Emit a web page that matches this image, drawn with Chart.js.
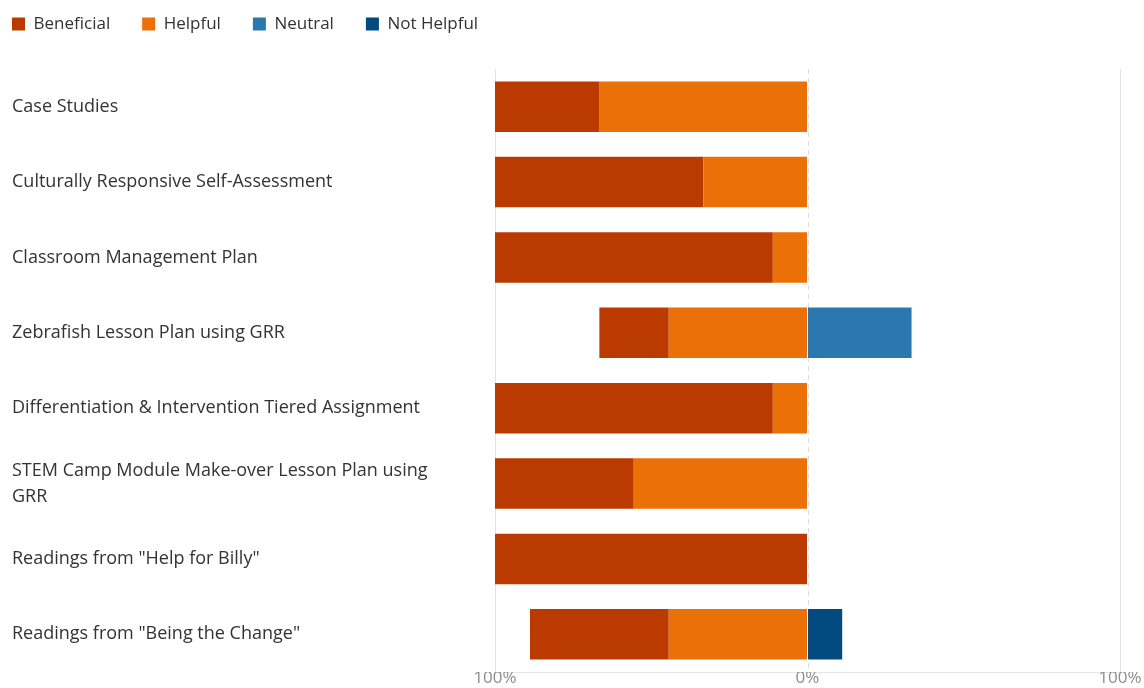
<!DOCTYPE html>
<html>
<head>
<meta charset="utf-8">
<script src="https://cdn.jsdelivr.net/npm/chart.js@4/dist/chart.umd.min.js"></script>
<style>
  html, body { margin: 0; padding: 0; background: #fff; overflow: hidden; }
  canvas { display: block; }
</style>
</head>
<body>
<canvas id="c" width="1144" height="688"></canvas>
<script>
const categories = [
  "Case Studies",
  "Culturally Responsive Self-Assessment",
  "Classroom Management Plan",
  "Zebrafish Lesson Plan using GRR",
  "Differentiation & Intervention Tiered Assignment",
  ["STEM Camp Module Make-over Lesson Plan using", "GRR"],
  "Readings from \"Help for Billy\"",
  "Readings from \"Being the Change\""
];
const beneficial = [33.3, 66.7, 88.9, 22.2, 88.9, 44.4, 100, 44.4];
const helpful    = [66.7, 33.3, 11.1, 44.4, 11.1, 55.6, 0, 44.4];
const neutral    = [0, 0, 0, 33.3, 0, 0, 0, 0];
const notHelpful = [0, 0, 0, 0, 0, 0, 0, 11.1];
const tickValues = [-100, 0, 100];

const legendOrder = ["Beneficial", "Helpful", "Neutral", "Not Helpful"];
const FONT = "'Open Sans', 'Noto Sans', sans-serif";

const zeroLine = {
  id: 'zeroLine',
  beforeDatasetsDraw(chart) {
    const {ctx, chartArea, scales} = chart;
    const x = Math.round(scales.x.getPixelForValue(0)) + 0.5;
    ctx.save();
    ctx.strokeStyle = '#dcdcdc';
    ctx.lineWidth = 1;
    ctx.setLineDash([5, 4]);
    ctx.beginPath();
    ctx.moveTo(x, chartArea.top);
    ctx.lineTo(x, chartArea.bottom);
    ctx.stroke();
    ctx.restore();
  }
};

const LEGEND_PAD = 32;
const legendShift = {
  id: 'legendShift',
  afterLayout(chart) {
    const lg = chart.legend;
    if (!lg) return;
    const dx = 12 - (lg.left + LEGEND_PAD);
    const targetCenter = 24;
    const itemH = 17;
    const dy = targetCenter - (lg.top + LEGEND_PAD + itemH / 2);
    lg.left += dx; lg.right += dx;
    lg.top += dy; lg.bottom += dy;
  }
};

new Chart(document.getElementById('c'), {
  type: 'bar',
  data: {
    labels: categories,
    datasets: [
      { label: 'Helpful', data: helpful.map(v => -v), backgroundColor: '#EB7007' },
      { label: 'Beneficial', data: beneficial.map(v => -v), backgroundColor: '#BA3A00' },
      { label: 'Neutral', data: neutral, backgroundColor: '#2B78AE' },
      { label: 'Not Helpful', data: notHelpful, backgroundColor: '#034A80' }
    ]
  },
  options: {
    indexAxis: 'y',
    responsive: false,
    animation: false,
    layout: { padding: { left: 12, right: 24, top: 10, bottom: -3 } },
    datasets: { bar: { barPercentage: 0.67, categoryPercentage: 1 } },
    plugins: {
      tooltip: { enabled: false },
      legend: {
        position: 'top',
        align: 'start',
        labels: {
          boxWidth: 13,
          boxHeight: 13,
          padding: LEGEND_PAD,
          color: '#333333',
          font: { family: FONT, size: 17 },
          sort: (a, b) => legendOrder.indexOf(a.text) - legendOrder.indexOf(b.text)
        }
      }
    },
    scales: {
      x: {
        stacked: true,
        min: -100,
        max: 100,
        afterBuildTicks(scale) { scale.ticks = tickValues.map(v => ({ value: v })); },
        afterFit(scale) { scale.height = 14; },
        ticks: {
          padding: -4,
          color: '#8c8c8c',
          font: { family: FONT, size: 17 },
          maxRotation: 0,
          callback: v => Math.abs(v) + '%'
        },
        grid: {
          drawTicks: false,
          color: ctx => (ctx.tick && ctx.tick.value === 0) ? 'rgba(0,0,0,0)' : '#e3e3e3'
        },
        border: { display: true, color: '#e6e6e6' }
      },
      y: {
        stacked: true,
        afterFit(scale) { scale.width = 483; },
        ticks: {
          crossAlign: 'far',
          color: '#333333',
          font: { family: FONT, size: 18, lineHeight: 1.44 }
        },
        grid: { display: false },
        border: { display: false }
      }
    }
  },
  plugins: [zeroLine, legendShift]
});
</script>
</body>
</html>
